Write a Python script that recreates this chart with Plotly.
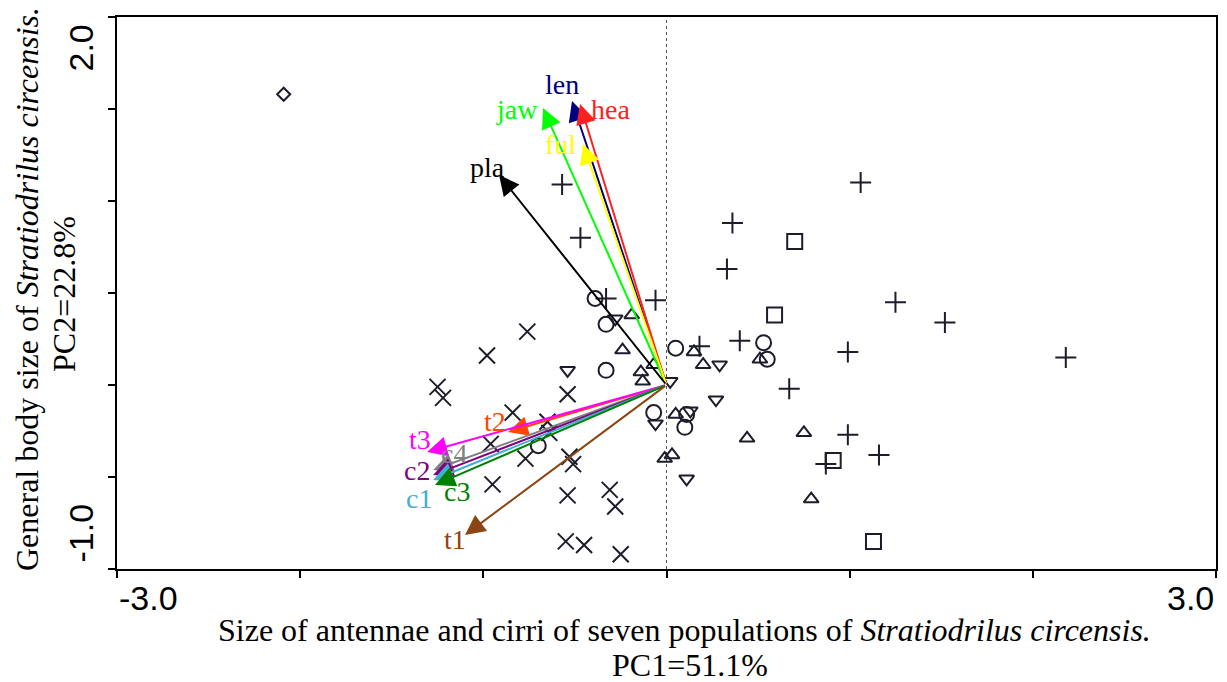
import plotly.graph_objects as go

# ---------------- data (PC1, PC2 scores) ----------------
diamond_x = [-2.09]
diamond_y = [1.58]

plus_x = [-0.57, -0.47, -0.33, -0.06, 1.06, 0.36, 0.33, 1.25, 1.52, 2.18, 0.18, 0.40, 0.99, 0.67, 0.99, 1.16, 0.87]
plus_y = [1.09, 0.80, 0.47, 0.46, 1.10, 0.88, 0.63, 0.45, 0.34, 0.15, 0.21, 0.24, 0.18, -0.02, -0.27, -0.38, -0.43]

square_x = [0.70, 0.59, 0.91, 1.13]
square_y = [0.78, 0.38, -0.41, -0.85]

circle_x = [-0.39, -0.33, -0.33, 0.05, 0.53, 0.55, -0.07, 0.11, 0.10, -0.70]
circle_y = [0.47, 0.33, 0.08, 0.20, 0.23, 0.14, -0.15, -0.16, -0.23, -0.33]

triup_x = [-0.19, -0.24, -0.07, -0.14, -0.13, 0.15, 0.20, 0.51, 0.05, 0.44, 0.75, 0.79, -0.01, 0.03]
triup_y = [0.38, 0.19, 0.11, 0.07, 0.02, 0.18, 0.11, 0.14, -0.16, -0.29, -0.26, -0.62, -0.40, -0.38]

tridn_x = [-0.28, -0.54, 0.02, 0.29, 0.27, -0.06, 0.13, 0.11]
tridn_y = [0.36, 0.08, 0.02, 0.11, -0.08, -0.21, -0.14, -0.51]

cross_x = [-0.76, -0.98, -1.25, -1.22, -0.54, -0.84, -0.65, -0.64, -0.96, -0.77, -0.53, -0.51,
           -0.95, -0.54, -0.31, -0.28, -0.55, -0.45, -0.25]
cross_y = [0.29, 0.16, -0.01, -0.07, -0.05, -0.15, -0.20, -0.26, -0.32, -0.40, -0.39, -0.43,
           -0.54, -0.60, -0.57, -0.66, -0.85, -0.87, -0.92]

# variable loadings (arrow tips)
var_names = ["len", "hea", "jaw", "ful", "pla", "t2", "t3", "c4", "c2", "c1", "c3", "t1"]
var_pc1 = [-0.516, -0.472, -0.674, -0.456, -0.914, -0.865, -1.307, -1.274, -1.274, -1.274, -1.264, -1.100]
var_pc2 = [1.543, 1.527, 1.505, 1.310, 1.141, -0.255, -0.364, -0.462, -0.489, -0.516, -0.543, -0.815]

# ---------------- styles ----------------
var_colors = {"len": "#000080", "hea": "#ff2020", "jaw": "#00ff00", "ful": "#ffff00",
              "pla": "#000000", "t2": "#ff4500", "t3": "#ff00ff", "c4": "#808080",
              "c2": "#800080", "c1": "#40b0d0", "c3": "#008000", "t1": "#8b4513"}
label_shift = {"len": (-10, 17), "hea": (30, -5), "jaw": (-26, -1), "ful": (-22, -1),
               "pla": (-12, 8), "t2": (-13, 10), "t3": (-7, 12), "c4": (21, 17),
               "c2": (-16, 4), "c1": (-14, -19), "c3": (22, -7), "t1": (-10, -5)}

mk = "#1c1c2a"
SERIF = "Liberation Serif"
SANS = "Liberation Sans"

# page body has an 8px margin: shrink the figure so the plot lands where the reference has it
OFF = 8
W, H = 1227 - OFF, 682 - OFF
ML, MR, MT, MB = 117 - OFF, 11, 15 - OFF, 113
PW, PH = W - ML - MR, H - MT - MB


def px_to_paper(px, py):
    return (px - 117) / PW, (569 - py) / PH


fig = go.Figure()


def add_markers(xs, ys, symbol, size):
    fig.add_trace(go.Scatter(x=xs, y=ys, mode="markers",
                             marker=dict(symbol=symbol, size=size, color=mk,
                                         line=dict(color=mk, width=2)),
                             showlegend=False, hoverinfo="skip"))


add_markers(diamond_x, diamond_y, "diamond-open", 10)
add_markers(plus_x, plus_y, "cross-thin-open", 15)
add_markers(square_x, square_y, "square-open", 15)
add_markers(circle_x, circle_y, "circle-open", 15)
add_markers(triup_x, triup_y, "triangle-up-open", 13)
add_markers(tridn_x, tridn_y, "triangle-down-open", 13)
add_markers(cross_x, cross_y, "x-thin-open", 16)

annotations = []
for name, px, py in zip(var_names, var_pc1, var_pc2):
    c = var_colors[name]
    annotations.append(dict(x=px, y=py, ax=0, ay=0, xref="x", yref="y", axref="x", ayref="y",
                            text="", showarrow=True, arrowhead=2, arrowsize=2.0,
                            arrowwidth=2, arrowcolor=c))
for name, px, py in zip(var_names, var_pc1, var_pc2):
    dx, dy = label_shift[name]
    annotations.append(dict(x=px, y=py, xref="x", yref="y", text=name, showarrow=False,
                            xshift=dx, yshift=dy,
                            font=dict(family=SERIF, size=28, color=var_colors[name])))

# end tick labels
annotations += [
    dict(x=-3, y=0, xref="x", yref="paper", text="-3.0", showarrow=False, xanchor="left",
         yanchor="top", yshift=-8, font=dict(family=SANS, size=34, color="black")),
    dict(x=3, y=0, xref="x", yref="paper", text="3.0", showarrow=False, xanchor="right",
         yanchor="top", yshift=-8, font=dict(family=SANS, size=34, color="black")),
    dict(x=0, y=2.0, xref="paper", yref="y", text="2.0", showarrow=False, textangle=-90,
         xanchor="center", yanchor="top", xshift=-37, yshift=-6,
         font=dict(family=SANS, size=34, color="black")),
    dict(x=0, y=-1.0, xref="paper", yref="y", text="-1.0", showarrow=False, textangle=-90,
         xanchor="center", yanchor="bottom", xshift=-37, yshift=4,
         font=dict(family=SANS, size=34, color="black")),
]

# axis titles
tx1 = px_to_paper(684, 630)
tx2 = px_to_paper(690, 665)
ty1 = px_to_paper(27, 288)
ty2 = px_to_paper(64, 293)
annotations += [
    dict(x=tx1[0], y=tx1[1], xref="paper", yref="paper",
         text="Size of antennae and cirri of seven populations of <i>Stratiodrilus circensis.</i>",
         showarrow=False, xanchor="center", yanchor="middle",
         font=dict(family=SERIF, size=32, color="black")),
    dict(x=tx2[0], y=tx2[1], xref="paper", yref="paper",
         text="PC1=51.1%", showarrow=False, xanchor="center", yanchor="middle",
         font=dict(family=SERIF, size=32, color="black")),
    dict(x=ty1[0], y=ty1[1], xref="paper", yref="paper",
         text="General body size of <i>Stratiodrilus circensis.</i>", textangle=-90,
         showarrow=False, xanchor="center", yanchor="middle",
         font=dict(family=SERIF, size=32, color="black")),
    dict(x=ty2[0], y=ty2[1], xref="paper", yref="paper",
         text="PC2=22.8%", textangle=-90,
         showarrow=False, xanchor="center", yanchor="middle",
         font=dict(family=SERIF, size=32, color="black")),
]

fig.add_shape(type="line", x0=0, x1=0, y0=0, y1=1, xref="x", yref="paper",
              line=dict(color="#555555", width=1, dash="dot"), layer="below")

fig.update_layout(
    width=W, height=H,
    margin=dict(l=ML, r=MR, t=MT, b=MB),
    paper_bgcolor="white", plot_bgcolor="white",
    annotations=annotations,
    xaxis=dict(range=[-3, 3], tickvals=[-3, -2, -1, 0, 1, 2, 3], showticklabels=False,
               ticks="outside", ticklen=7, tickwidth=2, tickcolor="black",
               showline=True, linecolor="black", linewidth=2, mirror=True,
               showgrid=False, zeroline=False),
    yaxis=dict(range=[-1, 2], tickvals=[-1, -0.5, 0, 0.5, 1, 1.5, 2], showticklabels=False,
               ticks="outside", ticklen=7, tickwidth=2, tickcolor="black",
               showline=True, linecolor="black", linewidth=2, mirror=True,
               showgrid=False, zeroline=False),
)

fig.write_html("out.html")
